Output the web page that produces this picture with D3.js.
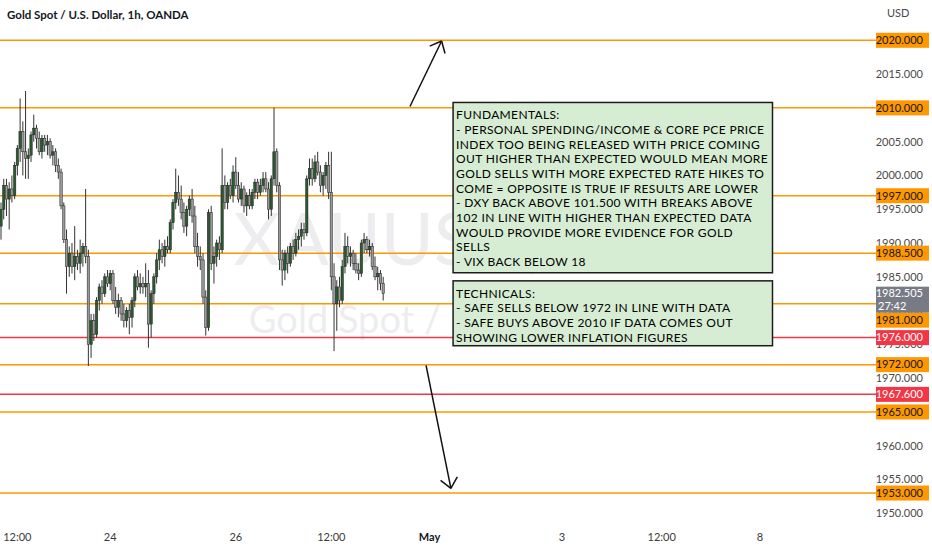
<!DOCTYPE html>
<html>
<head>
<meta charset="utf-8">
<script src="https://cdn.jsdelivr.net/npm/d3@7"></script>
<style>
  body { margin: 0; background: #fff; }
  svg { display: block; font-family: Lato, "Noto Sans", sans-serif; }
</style>
</head>
<body>
<div id="chart"></div>
<script>
// hourly XAUUSD candles, [open, high, low, close]
const bars = [
  [1992.5, 1996.0, 1990.5, 1995.0], [1995.0, 1999.5, 1993.5, 1998.5], [1998.5, 1999.5, 1994.0, 1996.5],
  [1996.5, 1999.0, 1992.0, 1998.0], [1998.0, 2000.0, 1996.0, 1997.0], [1997.0, 2002.0, 1996.5, 2001.5],
  [2001.5, 2004.5, 2000.0, 2004.0], [2004.0, 2011.4, 2002.0, 2006.5], [2006.5, 2008.0, 2000.0, 2003.5],
  [2003.5, 2012.5, 1999.5, 2002.5], [2002.5, 2004.0, 1999.5, 2003.0], [2003.0, 2006.5, 2002.0, 2006.0],
  [2006.0, 2009.0, 2005.0, 2007.0], [2007.0, 2007.5, 2004.0, 2005.5], [2005.5, 2006.5, 2003.0, 2003.5],
  [2003.5, 2006.0, 2002.5, 2005.5], [2005.5, 2006.0, 2003.5, 2004.5], [2004.5, 2006.0, 2003.0, 2005.0],
  [2005.0, 2005.5, 2002.5, 2003.0], [2003.0, 2004.5, 2001.5, 2003.5], [2003.5, 2004.0, 2000.5, 2001.5],
  [2001.5, 2002.5, 1999.5, 2000.5], [2000.5, 2001.0, 1995.0, 1995.5], [1995.5, 1996.0, 1990.0, 1990.5],
  [1990.5, 1992.0, 1982.5, 1986.5], [1986.5, 1989.5, 1985.0, 1988.5], [1988.5, 1990.0, 1985.5, 1986.5],
  [1986.5, 1992.5, 1984.5, 1988.0], [1988.0, 1989.0, 1986.0, 1987.0], [1987.0, 1990.5, 1985.5, 1988.5],
  [1988.5, 1990.0, 1986.5, 1989.5], [1989.5, 1998.0, 1987.0, 1988.0], [1988.0, 1989.0, 1971.8, 1975.0],
  [1975.0, 1979.5, 1973.0, 1978.5], [1978.5, 1979.5, 1975.5, 1976.5], [1976.5, 1982.0, 1976.0, 1981.5],
  [1981.5, 1984.0, 1980.0, 1983.5], [1983.5, 1984.5, 1981.0, 1982.5], [1982.5, 1985.5, 1982.0, 1985.0],
  [1985.0, 1986.0, 1983.5, 1984.0], [1984.0, 1986.0, 1983.0, 1985.5], [1985.5, 1986.0, 1981.0, 1981.5],
  [1981.5, 1983.5, 1979.5, 1980.5], [1980.5, 1982.5, 1979.0, 1981.5], [1981.5, 1982.0, 1978.5, 1979.5],
  [1979.5, 1981.0, 1977.5, 1978.5], [1978.5, 1980.5, 1977.5, 1980.0], [1980.0, 1981.0, 1976.5, 1979.0],
  [1979.0, 1982.0, 1977.5, 1981.5], [1981.5, 1985.5, 1980.5, 1985.0], [1985.0, 1986.0, 1983.0, 1983.5],
  [1983.5, 1985.5, 1982.5, 1984.0], [1984.0, 1985.0, 1982.5, 1983.5], [1983.5, 1987.0, 1982.0, 1984.0],
  [1984.0, 1986.0, 1974.5, 1978.0], [1978.0, 1983.0, 1976.0, 1982.5], [1982.5, 1985.5, 1981.0, 1985.0],
  [1985.0, 1988.5, 1984.0, 1987.5], [1987.5, 1990.5, 1986.0, 1989.0], [1989.0, 1990.0, 1987.0, 1988.0],
  [1988.0, 1990.5, 1986.5, 1989.5], [1989.5, 1991.0, 1988.5, 1989.0], [1989.0, 1993.5, 1988.5, 1993.0],
  [1993.0, 1996.5, 1992.0, 1996.0], [1996.0, 2001.0, 1995.0, 1997.5], [1997.5, 2000.0, 1995.5, 1996.5],
  [1996.5, 1998.5, 1993.5, 1994.5], [1994.5, 1996.0, 1991.5, 1992.5], [1992.5, 1995.5, 1991.0, 1995.0],
  [1995.0, 1997.0, 1994.0, 1996.5], [1996.5, 1998.0, 1993.0, 1994.0], [1994.0, 1995.5, 1988.5, 1989.5],
  [1989.5, 1991.5, 1986.5, 1988.0], [1988.0, 1989.5, 1986.0, 1987.5], [1987.5, 1988.5, 1981.0, 1982.0],
  [1982.0, 1983.0, 1976.3, 1977.5], [1977.5, 1995.0, 1977.0, 1994.5], [1994.5, 1995.5, 1986.0, 1987.0],
  [1987.0, 1989.5, 1984.0, 1988.0], [1988.0, 1990.5, 1986.5, 1990.0], [1990.0, 1991.0, 1987.5, 1989.0],
  [1989.0, 2004.0, 1988.5, 1998.5], [1998.5, 2000.0, 1995.0, 1996.0], [1996.0, 1999.0, 1995.0, 1998.5],
  [1998.5, 1999.5, 1996.5, 1997.0], [1997.0, 2001.5, 1996.0, 2000.5], [2000.5, 2002.7, 1998.0, 1998.5],
  [1998.5, 2000.5, 1996.0, 1996.5], [1996.5, 1999.0, 1995.5, 1998.0], [1998.0, 1998.5, 1994.5, 1995.5],
  [1995.5, 1997.5, 1994.0, 1997.0], [1997.0, 1998.0, 1995.0, 1995.5], [1995.5, 1998.0, 1995.0, 1997.5],
  [1997.5, 1999.5, 1996.5, 1999.0], [1999.0, 1999.5, 1996.5, 1997.5], [1997.5, 1999.5, 1997.0, 1998.5],
  [1998.5, 2000.5, 1997.5, 1999.5], [1999.5, 2000.5, 1997.5, 1998.0], [1998.0, 1999.0, 1993.5, 1995.0],
  [1995.0, 2000.0, 1994.0, 1999.5], [1999.5, 2010.0, 1998.5, 2003.5], [2003.5, 2004.0, 1997.5, 1998.5],
  [1998.5, 1999.0, 1986.0, 1987.5], [1987.5, 1989.0, 1983.7, 1986.0], [1986.0, 1989.0, 1984.5, 1988.5],
  [1988.5, 1989.5, 1985.5, 1987.0], [1987.0, 1990.0, 1986.5, 1989.5], [1989.5, 1990.5, 1987.5, 1988.5],
  [1988.5, 1991.5, 1988.0, 1990.5], [1990.5, 1992.0, 1989.0, 1991.0], [1991.0, 1993.0, 1989.5, 1992.0],
  [1992.0, 1993.0, 1990.5, 1991.5], [1991.5, 2000.0, 1991.0, 1999.5], [1999.5, 2002.5, 1998.5, 2001.0],
  [2001.0, 2002.5, 1998.5, 1999.5], [1999.5, 2003.0, 1999.0, 2002.0], [2002.0, 2003.5, 2000.0, 2000.5],
  [2000.5, 2001.5, 1997.5, 1998.5], [1998.5, 2000.5, 1997.0, 2000.0], [2000.0, 2002.0, 1998.0, 2001.5],
  [2001.5, 2003.5, 1996.5, 1997.5], [1997.5, 2003.5, 1983.0, 1985.0], [1985.0, 1987.0, 1974.0, 1981.0],
  [1981.0, 1984.5, 1977.0, 1983.5], [1983.5, 1985.0, 1980.5, 1981.5], [1981.5, 1987.5, 1981.0, 1986.5],
  [1986.5, 1991.5, 1985.5, 1989.5], [1989.5, 1991.0, 1987.0, 1988.0], [1988.0, 1989.5, 1986.5, 1988.5],
  [1988.5, 1989.0, 1986.0, 1987.0], [1987.0, 1988.5, 1985.5, 1986.0], [1986.0, 1987.0, 1984.5, 1985.5],
  [1985.5, 1990.5, 1985.0, 1990.0], [1990.0, 1991.5, 1988.5, 1990.5], [1990.5, 1991.0, 1988.5, 1989.0],
  [1989.0, 1990.5, 1988.0, 1989.5], [1989.5, 1990.0, 1986.0, 1986.5], [1986.5, 1988.0, 1984.5, 1985.0],
  [1985.0, 1986.5, 1983.0, 1985.5], [1985.5, 1986.0, 1983.0, 1984.0], [1984.0, 1985.0, 1981.5, 1982.505]
];

const orangeLevels = [2020, 2010, 1997, 1988.5, 1981, 1972, 1965, 1953];
const redLevels = [1976, 1967.6];
const priceTicks = [1950, 1955, 1960, 1965, 1970, 1975, 1980, 1985, 1990, 1995, 2000, 2005, 2010, 2015, 2020];
const lastPrice = 1982.505;
const countdown = "27:42";

// bar index where each time label sits
const timeTickIdx = [6, 40, 86, 121, 157, 205.5, 242, 278];
const timeTickLabels = ["12:00", "24", "26", "12:00", "May", "3", "12:00", "8"];

const fundamentals = [
  "FUNDAMENTALS:",
  "- PERSONAL SPENDING/INCOME & CORE PCE PRICE",
  "INDEX TOO BEING RELEASED WITH PRICE COMING",
  "OUT HIGHER THAN EXPECTED WOULD MEAN MORE",
  "GOLD SELLS WITH MORE EXPECTED RATE HIKES TO",
  "COME = OPPOSITE IS TRUE IF RESULTS ARE LOWER",
  "- DXY BACK ABOVE 101.500 WITH BREAKS ABOVE",
  "102 IN LINE WITH HIGHER THAN EXPECTED DATA",
  "WOULD PROVIDE MORE EVIDENCE FOR GOLD",
  "SELLS",
  "- VIX BACK BELOW 18"
];
const technicals = [
  "TECHNICALS:",
  "- SAFE SELLS BELOW 1972 IN LINE WITH DATA",
  "- SAFE BUYS ABOVE 2010 IF DATA COMES OUT",
  "SHOWING LOWER INFLATION FIGURES"
];

const W = 932, H = 550, plotRight = 876;

const x = d3.scaleLinear().domain([0, 300]).range([1, 1 + 300 * 2.73]);
const y = d3.scaleLinear().domain([1950, 2020]).range([513.3, 40.3]);

const svg = d3.select("#chart").append("svg")
  .attr("width", W)
  .attr("height", H)
  .attr("viewBox", `0 0 ${W} ${H}`);

// watermark
const wm = svg.append("g").attr("fill", "#ededf0").attr("text-anchor", "middle");
wm.append("text")
  .attr("x", plotRight / 2).attr("y", 265)
  .attr("font-size", 72)
  .text("XAUUSD, 1h");
wm.append("text")
  .attr("x", plotRight / 2).attr("y", 333)
  .attr("font-size", 38)
  .text("Gold Spot / U.S. Dollar");

// horizontal levels
const levels = orangeLevels.map(v => ({v, kind: "o"}))
  .concat(redLevels.map(v => ({v, kind: "r"})));
const levelColor = k => k === "r" ? "#f23645" : "#ff9800";

svg.append("g")
  .selectAll("line")
  .data(levels)
  .enter().append("line")
  .attr("x1", 0)
  .attr("x2", plotRight)
  .attr("y1", d => y(d.v))
  .attr("y2", d => y(d.v))
  .attr("stroke", d => levelColor(d.kind))
  .attr("stroke-width", 1.5);

// candles
const candle = svg.append("g")
  .selectAll("g")
  .data(bars)
  .enter().append("g");

candle.append("line")
  .attr("x1", (d, i) => x(i))
  .attr("x2", (d, i) => x(i))
  .attr("y1", d => y(d[1]))
  .attr("y2", d => y(d[2]))
  .attr("stroke", "#333")
  .attr("stroke-width", 1);

candle.append("rect")
  .attr("x", (d, i) => x(i) - 1.2)
  .attr("width", 2.4)
  .attr("y", d => y(Math.max(d[0], d[3])))
  .attr("height", d => Math.max(1, Math.abs(y(d[0]) - y(d[3]))))
  .attr("fill", d => d[3] >= d[0] ? "#2a5a2e" : "#999")
  .attr("stroke", "#222")
  .attr("stroke-width", 0.5);

// arrows (anchored in bar index / price)
const arrows = [
  {i0: 149.8, p0: 2010.2, i1: 161.4, p1: 2019.9},
  {i0: 155.7, p0: 1971.9, i1: 164.8, p1: 1953.7}
];
const ag = svg.append("g").attr("stroke", "#111").attr("stroke-width", 1.5).attr("fill", "none");
arrows.forEach(a => {
  const x0 = x(a.i0), y0 = y(a.p0), x1 = x(a.i1), y1 = y(a.p1);
  const ang = Math.atan2(y0 - y1, x0 - x1);
  const len = 13, spread = 41 * Math.PI / 180;
  ag.append("line").attr("x1", x0).attr("y1", y0).attr("x2", x1).attr("y2", y1);
  [-1, 1].forEach(s => {
    ag.append("line")
      .attr("x1", x1).attr("y1", y1)
      .attr("x2", x1 + len * Math.cos(ang + s * spread))
      .attr("y2", y1 + len * Math.sin(ang + s * spread));
  });
});

// note boxes
const notes = [
  {i0: 165.6, i1: 282.6, top: 2010.8, bottom: 1985.6, lines: fundamentals},
  {i0: 165.6, i1: 282.6, top: 1984.4, bottom: 1974.8, lines: technicals}
];
notes.forEach(n => {
  const g = svg.append("g");
  g.append("rect")
    .attr("x", x(n.i0))
    .attr("y", y(n.top))
    .attr("width", x(n.i1) - x(n.i0))
    .attr("height", y(n.bottom) - y(n.top))
    .attr("fill", "#d6edd3")
    .attr("stroke", "#1c1c1c")
    .attr("stroke-width", 1.5);
  g.selectAll("text")
    .data(n.lines)
    .enter().append("text")
    .attr("x", x(n.i0) + 3)
    .attr("y", (d, k) => y(n.top) + 16.7 + k * 14.67)
    .attr("font-size", 12)
    .attr("letter-spacing", 0.35)
    .attr("fill", "#000")
    .text(d => d);
});

// price tags, pushed down when they collide
const tagH = 15;
const curTop = y(lastPrice) - 7, curBottom = curTop + 26;
const tags = levels.slice().sort((a, b) => b.v - a.v).map(d => ({...d, top: y(d.v) - tagH / 2}));
let prevBottom = -Infinity;
tags.forEach(t => {
  if (t.top < prevBottom) t.top = prevBottom;
  if (t.top < curBottom && t.top + tagH > curTop) t.top = curBottom;
  prevBottom = t.top + tagH;
});

// price axis: a tick whose label sits fully under a tag is not drawn
const covered = v => {
  const c = y(v);
  return tags.some(t => c - 4 > t.top && c + 4 < t.top + tagH) || (c - 4 > curTop && c + 4 < curBottom);
};
svg.append("g")
  .attr("text-anchor", "end")
  .attr("font-size", 11)
  .attr("fill", "#4a4a4a")
  .selectAll("text")
  .data(priceTicks.filter(v => !covered(v)))
  .enter().append("text")
  .attr("x", 923)
  .attr("y", d => y(d))
  .attr("dy", "0.35em")
  .text(d => d.toFixed(3));

svg.append("text")
  .attr("x", 887).attr("y", 17)
  .attr("font-size", 11)
  .attr("fill", "#4a4a4a")
  .text("USD");

const tagG = svg.append("g").attr("font-size", 11).attr("text-anchor", "end");
tagG.selectAll("rect")
  .data(tags)
  .enter().append("rect")
  .attr("x", plotRight)
  .attr("y", d => d.top)
  .attr("width", 53)
  .attr("height", tagH)
  .attr("fill", d => levelColor(d.kind));
tagG.selectAll("text")
  .data(tags)
  .enter().append("text")
  .attr("x", 923)
  .attr("y", d => d.top + tagH / 2)
  .attr("dy", "0.35em")
  .attr("fill", d => d.kind === "r" ? "#fff" : "#131722")
  .text(d => d.v.toFixed(3));

tagG.append("rect")
  .attr("x", plotRight)
  .attr("y", curTop)
  .attr("width", 53)
  .attr("height", 26)
  .attr("fill", "#787b86");
tagG.append("text")
  .attr("x", 923).attr("y", curTop + 10.5)
  .attr("fill", "#fff")
  .text(lastPrice.toFixed(3));
tagG.append("text")
  .attr("x", 878).attr("y", curTop + 23)
  .attr("text-anchor", "start")
  .attr("fill", "#fff")
  .text(countdown);

// time axis
svg.append("g")
  .attr("text-anchor", "middle")
  .attr("font-size", 11)
  .attr("fill", "#3a3a3a")
  .selectAll("text")
  .data(timeTickIdx)
  .enter().append("text")
  .attr("x", d => x(d))
  .attr("y", 541)
  .attr("font-weight", (d, i) => timeTickLabels[i] === "May" ? "bold" : null)
  .attr("fill", (d, i) => timeTickLabels[i] === "May" ? "#131722" : null)
  .text((d, i) => timeTickLabels[i]);

// title
svg.append("text")
  .attr("x", 7).attr("y", 19)
  .attr("font-size", 11.5)
  .attr("font-weight", "bold")
  .attr("fill", "#131722")
  .text("Gold Spot / U.S. Dollar, 1h, OANDA");
</script>
</body>
</html>
